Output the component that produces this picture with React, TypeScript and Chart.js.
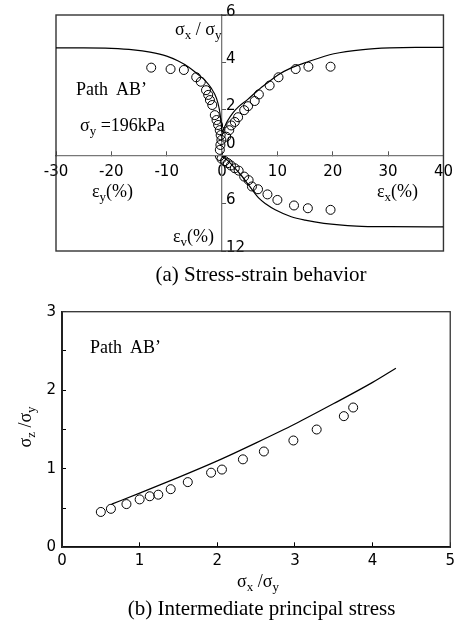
import React, { useEffect, useRef } from "react";
import { Chart, registerables } from "chart.js";
Chart.register(...registerables);

// ---------- (a) Stress-strain behavior ----------
const epsYCurve = [-30, -25, -20, -16, -13, -10, -8, -6, -4.5, -3, -2, -1, -0.5, -0.2, 0];
const ratioYCurve = [4.6, 4.6, 4.58, 4.52, 4.42, 4.25, 4.05, 3.78, 3.5, 3.2, 2.9, 2.45, 2.0, 1.5, 1.0];
const epsXCurve = [0, 1, 2, 3, 4.6, 6.5, 8.4, 10.1, 12.5, 15.4, 20.2, 25.5, 30.3, 35, 40];
const ratioXCurve = [1.0, 1.5, 1.85, 2.1, 2.4, 2.8, 3.15, 3.45, 3.75, 4.0, 4.35, 4.53, 4.6, 4.62, 4.62];
const epsXVolCurve = [0, 1, 2, 3.4, 5, 6.6, 8, 9.6, 12.5, 15, 18.4, 24.3, 30.2, 40];
const volCurve = [0, 0.55, 1.3, 2.4, 3.85, 5.3, 6.1, 6.8, 7.67, 8.1, 8.5, 8.85, 8.93, 8.95];

const epsYTest = [-12.8, -9.3, -6.9, -4.67, -3.84, -2.9, -2.5, -2.19, -1.77, -1.31, -1.0, -0.71, -0.42, -0.25, -0.12, -0.3, -0.4];
const ratioYTest = [3.76, 3.7, 3.66, 3.35, 3.16, 2.8, 2.6, 2.38, 2.17, 1.74, 1.53, 1.32, 1.1, 0.89, 0.68, 0.47, 0.26];
const epsXTest = [0.76, 1.3, 1.65, 2.3, 2.9, 4.0, 4.7, 5.9, 6.65, 8.6, 10.2, 13.3, 15.6, 19.6];
const ratioXTest = [0.82, 1.1, 1.3, 1.45, 1.65, 1.95, 2.12, 2.34, 2.62, 3.0, 3.35, 3.7, 3.8, 3.8];
const epsXVolTest = [-0.4, -0.1, 0.5, 1.05, 1.6, 2.3, 3.0, 4.0, 4.8, 5.4, 6.5, 8.2, 10.0, 13.0, 15.5, 19.6];
const volTest = [0.0, 0.35, 0.65, 0.9, 1.2, 1.55, 1.85, 2.6, 3.05, 3.85, 4.2, 4.85, 5.55, 6.25, 6.6, 6.8];

const strainTicks = { min: -30, max: 40, step: 10 };
const ratioTicks = { min: 0, max: 6, step: 2 };
const volTicks = { min: 0, max: 12, step: 6 };

// ---------- (b) Intermediate principal stress ----------
const sxCurve = [0.64, 1.0, 1.5, 2.0, 2.5, 3.0, 3.5, 4.0, 4.3];
const szCurve = [0.55, 0.69, 0.89, 1.1, 1.33, 1.57, 1.83, 2.1, 2.28];
const sxTest = [0.5, 0.63, 0.83, 1.0, 1.13, 1.24, 1.4, 1.62, 1.92, 2.06, 2.33, 2.6, 2.98, 3.28, 3.63, 3.75];
const szTest = [0.45, 0.49, 0.55, 0.61, 0.65, 0.67, 0.74, 0.83, 0.95, 0.99, 1.12, 1.22, 1.36, 1.5, 1.67, 1.78];

const sxTicks = { min: 0, max: 5, step: 1 };
const szTicks = { min: 0, max: 3, step: 0.5 };

const tickFont = { family: '"DejaVu Sans", sans-serif', size: 15 };

const toXY = (xs: number[], ys: number[]) => xs.map((x, i) => ({ x, y: ys[i] }));

const curveDs = (xs: number[], ys: number[], yAxisID: string) => ({
  data: toXY(xs, ys),
  showLine: true,
  borderColor: "#000",
  borderWidth: 1.2,
  pointRadius: 0,
  cubicInterpolationMode: "monotone",
  fill: false,
  yAxisID,
});
const pointDs = (xs: number[], ys: number[], yAxisID: string) => ({
  data: toXY(xs, ys),
  showLine: false,
  pointRadius: 4.5,
  pointBackgroundColor: "rgba(0,0,0,0)",
  pointBorderColor: "#000",
  pointBorderWidth: 1,
  yAxisID,
});

const framePlugin = {
  id: "frame",
  beforeDatasetsDraw(chart: any, _a: any, opts: any) {
    const { ctx, chartArea: a } = chart;
    ctx.save();
    ctx.strokeStyle = opts.color || "#333";
    ctx.lineWidth = opts.width || 1.3;
    ctx.strokeRect(a.left, a.top, a.right - a.left, a.bottom - a.top);
    ctx.restore();
  },
};

const centerAxisPlugin = {
  id: "centerAxis",
  afterLayout(chart: any) {
    const x0 = chart.scales.x.getPixelForValue(0);
    for (const id of ["yRatio", "yVol"]) {
      const s = chart.scales[id];
      if (!s) continue;
      s.left = x0;
      s.right = x0;
      s.width = 0;
    }
  },
};

function ChartA() {
  const ref = useRef<HTMLCanvasElement>(null);
  useEffect(() => {
    if (!ref.current) return;
    const axisGrid = { drawOnChartArea: false, tickLength: -4, color: "#555", lineWidth: 1 };
    const axisBorder = { color: "#777", width: 1.3 };
    const chart = new Chart(ref.current, {
      type: "scatter",
      data: {
        datasets: [
          curveDs(epsYCurve, ratioYCurve, "yRatio"),
          curveDs(epsXCurve, ratioXCurve, "yRatio"),
          curveDs(epsXVolCurve, volCurve, "yVol"),
          pointDs(epsYTest, ratioYTest, "yRatio"),
          pointDs(epsXTest, ratioXTest, "yRatio"),
          pointDs(epsXVolTest, volTest, "yVol"),
        ] as any,
      },
      options: {
        responsive: false,
        animation: false,
        devicePixelRatio: 1,
        layout: { padding: { left: 56, top: 15, right: 13, bottom: 39 } },
        plugins: {
          legend: { display: false },
          tooltip: { enabled: false },
          frame: { color: "#333", width: 1.4 },
        } as any,
        scales: {
          x: {
            type: "linear",
            position: { yRatio: 0 } as any,
            min: strainTicks.min,
            max: strainTicks.max,
            ticks: { stepSize: strainTicks.step, autoSkip: false, padding: 12, color: "#000", font: tickFont, callback: (v: any) => String(v) },
            grid: { drawOnChartArea: false, tickLength: -5, color: "#555", lineWidth: 1 },
            border: axisBorder,
          },
          yRatio: {
            type: "linear",
            position: "left",
            stack: "strain",
            stackWeight: 141,
            weight: 2,
            min: ratioTicks.min,
            max: ratioTicks.max,
            ticks: {
              stepSize: ratioTicks.step,
              autoSkip: false,
              mirror: true,
              padding: 4,
              labelOffset: -3,
              color: "#000",
              font: tickFont,
              callback: (v: any) => (v === 0 ? ["0", ""] : String(v)),
            },
            grid: axisGrid,
            border: axisBorder,
            afterFit: (s: any) => { s.width = 0; },
          },
          yVol: {
            type: "linear",
            position: "left",
            stack: "strain",
            stackWeight: 95,
            weight: 1,
            reverse: true,
            min: volTicks.min,
            max: volTicks.max,
            ticks: {
              stepSize: volTicks.step,
              autoSkip: false,
              mirror: true,
              padding: 4,
              labelOffset: -3,
              color: "#000",
              font: tickFont,
              callback: (v: any) => (v === 0 ? "" : String(v)),
            },
            grid: axisGrid,
            border: axisBorder,
            afterFit: (s: any) => { s.width = 0; },
          },
        } as any,
      },
      plugins: [framePlugin, centerAxisPlugin],
    });
    return () => chart.destroy();
  }, []);
  return <canvas ref={ref} width={465} height={290} style={{ position: "absolute", left: 0, top: 0 }} />;
}

function ChartB() {
  const ref = useRef<HTMLCanvasElement>(null);
  useEffect(() => {
    if (!ref.current) return;
    const chart = new Chart(ref.current, {
      type: "scatter",
      data: {
        datasets: [curveDs(sxCurve, szCurve, "y"), pointDs(sxTest, szTest, "y")] as any,
      },
      options: {
        responsive: false,
        animation: false,
        devicePixelRatio: 1,
        layout: { padding: { left: 0, top: 21.7, right: 3, bottom: 0 } },
        plugins: {
          legend: { display: false },
          tooltip: { enabled: false },
          frame: { color: "#333", width: 1.3 },
        } as any,
        scales: {
          x: {
            type: "linear",
            position: "bottom",
            min: sxTicks.min,
            max: sxTicks.max,
            ticks: { stepSize: sxTicks.step, autoSkip: false, padding: 10, color: "#000", font: tickFont },
            grid: { drawOnChartArea: false, tickLength: -5, color: "#000", lineWidth: 1 },
            border: { color: "#000", width: 2 },
            afterFit: (s: any) => { s.height = 73.7; },
          },
          y: {
            type: "linear",
            position: "left",
            min: szTicks.min,
            max: szTicks.max,
            ticks: {
              stepSize: szTicks.step,
              autoSkip: false,
              padding: 10,
              color: "#000",
              font: tickFont,
              callback: (v: any) => (Number.isInteger(v) ? String(v) : ""),
            },
            grid: { drawOnChartArea: false, tickLength: -4, color: "#000", lineWidth: 1 },
            border: { color: "#000", width: 2 },
            afterFit: (s: any) => { s.width = 62; },
          },
        } as any,
      },
      plugins: [framePlugin],
    });
    return () => chart.destroy();
  }, []);
  return <canvas ref={ref} width={465} height={331} style={{ position: "absolute", left: 0, top: 290 }} />;
}

const serif = '"Liberation Serif", "Times New Roman", serif';

function Txt(props: { left?: number; center?: number; baseline: number; size: number; children: any }) {
  const { left, center, baseline, size, children } = props;
  const style: any = {
    position: "absolute",
    top: baseline - 0.84 * size,
    fontFamily: serif,
    fontSize: size,
    lineHeight: 1,
    whiteSpace: "nowrap",
    color: "#000",
  };
  if (center !== undefined) {
    style.left = center - 250;
    style.width = 500;
    style.textAlign = "center";
  } else {
    style.left = left;
  }
  return <div style={style}>{children}</div>;
}

const Sub = ({ children }: { children: any }) => (
  <span style={{ fontSize: "0.72em", verticalAlign: "-0.3em" }}>{children}</span>
);

export default function App() {
  return (
    <div style={{ position: "absolute", left: 0, top: 0, width: 465, height: 621, background: "#fff", overflow: "hidden" }}>
      <ChartA />
      <ChartB />
      {/* annotations (a) */}
      <Txt left={175} baseline={35} size={18}>σ<Sub>x</Sub> / σ<Sub>y</Sub></Txt>
      <Txt left={76} baseline={95} size={18}>Path&nbsp; AB’</Txt>
      <Txt left={80} baseline={131} size={18}>σ<Sub>y</Sub> =196kPa</Txt>
      <Txt left={92} baseline={197} size={18}>ε<Sub>y</Sub>(%)</Txt>
      <Txt left={377} baseline={197} size={18}>ε<Sub>x</Sub>(%)</Txt>
      <Txt left={173} baseline={242} size={18}>ε<Sub>v</Sub>(%)</Txt>
      <Txt center={261} baseline={282} size={21}>(a) Stress-strain behavior</Txt>
      {/* annotations (b) */}
      <Txt left={90} baseline={353} size={18}>Path&nbsp; AB’</Txt>
      <div
        style={{
          position: "absolute",
          left: -15,
          top: 417,
          width: 80,
          height: 20,
          lineHeight: "20px",
          textAlign: "center",
          fontFamily: serif,
          fontSize: 18,
          whiteSpace: "nowrap",
          transform: "rotate(-90deg)",
          transformOrigin: "50% 50%",
        }}
      >
        σ<Sub>z</Sub> /σ<Sub>y</Sub>
      </div>
      <Txt left={237} baseline={587} size={18}>σ<Sub>x</Sub> /σ<Sub>y</Sub></Txt>
      <Txt center={261.5} baseline={616} size={21}>(b) Intermediate principal stress</Txt>
    </div>
  );
}
